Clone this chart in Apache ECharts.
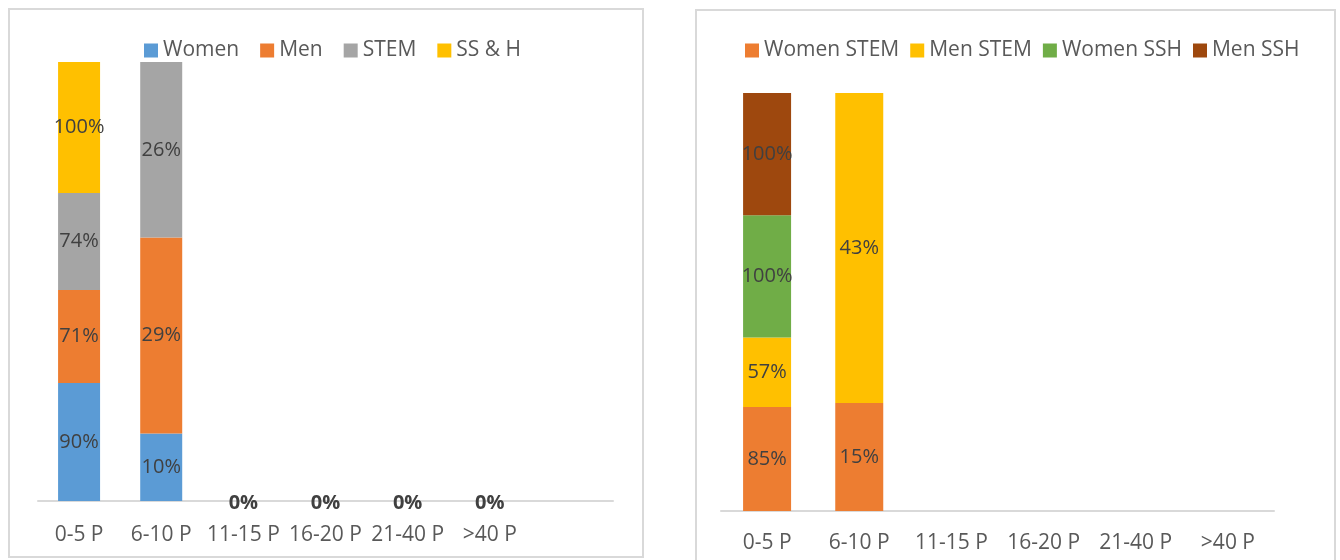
<!DOCTYPE html>
<html>
<head>
<meta charset="utf-8">
<script src="https://cdn.jsdelivr.net/npm/echarts@6/dist/echarts.min.js"></script>
<style>
  html, body { margin: 0; padding: 0; background: #ffffff; }
  #chart { width: 1340px; height: 560px; }
</style>
</head>
<body>
<div id="chart"></div>
<script>
// ---- Left chart data (labels show raw values, bars are 100% stacked) ----
const categoriesLeft = ['0-5 P', '6-10 P', '11-15 P', '16-20 P', '21-40 P', '>40 P', ''];
const leftWomen = [90, 10, 0, 0, 0, 0, null];
const leftMen   = [71, 29, 0, 0, 0, 0, null];
const leftStem  = [74, 26, 0, 0, 0, 0, null];
const leftSsh   = [100, null, 0, 0, 0, 0, null];

// ---- Right chart data ----
const categoriesRight = ['0-5 P', '6-10 P', '11-15 P', '16-20 P', '21-40 P', '>40 P'];
const rightWomenStem = [85, 15, null, null, null, null];
const rightMenStem   = [57, 43, null, null, null, null];
const rightWomenSsh  = [100, null, null, null, null, null];
const rightMenSsh    = [100, null, null, null, null, null];

const FONT = '"Open Sans", "Noto Sans", sans-serif';

// 100% stacking: share of each raw value within its column
function shares(seriesList) {
  const n = seriesList[0].length;
  const totals = [];
  for (let i = 0; i < n; i++) {
    let t = 0;
    seriesList.forEach(s => { if (s[i] != null) t += s[i]; });
    totals.push(t);
  }
  return seriesList.map(s => s.map((v, i) => v == null ? null : (totals[i] ? v / totals[i] * 100 : 0)));
}

const leftRaw = [leftWomen, leftMen, leftStem, leftSsh];
const leftNames = ['Women', 'Men', 'STEM', 'SS & H'];
const leftColors = ['#5B9BD5', '#ED7D31', '#A5A5A5', '#FFC000'];
const leftShare = shares(leftRaw);

const rightRaw = [rightWomenStem, rightMenStem, rightWomenSsh, rightMenSsh];
const rightNames = ['Women STEM', 'Men STEM', 'Women SSH', 'Men SSH'];
const rightColors = ['#ED7D31', '#FFC000', '#70AD47', '#9E480E'];
const rightShare = shares(rightRaw);

const series = [];
leftRaw.forEach((raw, k) => {
  series.push({
    name: leftNames[k],
    type: 'bar',
    stack: 'left',
    xAxisIndex: 0,
    yAxisIndex: 0,
    barWidth: 42,
    itemStyle: { color: leftColors[k] },
    data: leftShare[k],
    label: {
      show: true,
      position: 'inside',
      color: '#404040',
      fontFamily: FONT,
      fontSize: 20,
      formatter: function (p) {
        const v = raw[p.dataIndex];
        if (v == null) return '';
        if (v === 0) return k === 0 ? '{z|0%}' : '';
        return v + '%';
      },
      rich: {
        z: { fontWeight: 'bold', fontSize: 20, color: '#404040', fontFamily: FONT, padding: [4, 0, 0, 0] }
      }
    }
  });
});
rightRaw.forEach((raw, k) => {
  series.push({
    name: rightNames[k],
    type: 'bar',
    stack: 'right',
    xAxisIndex: 1,
    yAxisIndex: 1,
    barWidth: 48,
    itemStyle: { color: rightColors[k] },
    data: rightShare[k],
    label: {
      show: true,
      position: 'inside',
      color: '#404040',
      fontFamily: FONT,
      fontSize: 20,
      formatter: function (p) {
        const v = raw[p.dataIndex];
        return v == null ? '' : v + '%';
      }
    }
  });
});

function makeXAxis(gridIndex, data, margin) {
  return {
    type: 'category',
    gridIndex: gridIndex,
    data: data,
    axisLine: { lineStyle: { color: '#D9D9D9', width: 2 } },
    axisTick: { show: false },
    axisLabel: { color: '#595959', fontFamily: FONT, fontSize: 21, margin: margin, interval: 0 }
  };
}

const option = {
  animation: false,
  backgroundColor: '#ffffff',
  textStyle: { fontFamily: FONT },
  graphic: [
    { type: 'rect', shape: { x: 9, y: 9, width: 634, height: 548 }, style: { fill: 'none', stroke: '#D9D9D9', lineWidth: 2 }, silent: true, z: -1 },
    { type: 'rect', shape: { x: 696, y: 10, width: 639, height: 560 }, style: { fill: 'none', stroke: '#D9D9D9', lineWidth: 2 }, silent: true, z: -1 }
  ],
  legend: [
    {
      data: leftNames,
      left: 139,
      top: 35,
      itemWidth: 14,
      itemHeight: 14,
      itemGap: 21,
      icon: 'rect',
      textStyle: { color: '#595959', fontSize: 21, fontFamily: FONT }
    },
    {
      data: rightNames,
      left: 740,
      top: 35,
      itemWidth: 14,
      itemHeight: 14,
      itemGap: 11,
      icon: 'rect',
      textStyle: { color: '#595959', fontSize: 21, fontFamily: FONT }
    }
  ],
  grid: [
    { left: 38, top: 62, width: 575, height: 439, containLabel: false },
    { left: 721, top: 93, width: 553, height: 418, containLabel: false }
  ],
  xAxis: [
    makeXAxis(0, categoriesLeft, 24),
    makeXAxis(1, categoriesRight, 22)
  ],
  yAxis: [
    { type: 'value', gridIndex: 0, min: 0, max: 100, show: false, splitLine: { show: false } },
    { type: 'value', gridIndex: 1, min: 0, max: 100, show: false, splitLine: { show: false } }
  ],
  series: series
};

const chart = echarts.init(document.getElementById('chart'), null, { renderer: 'canvas' });
chart.setOption(option);
</script>
</body>
</html>
